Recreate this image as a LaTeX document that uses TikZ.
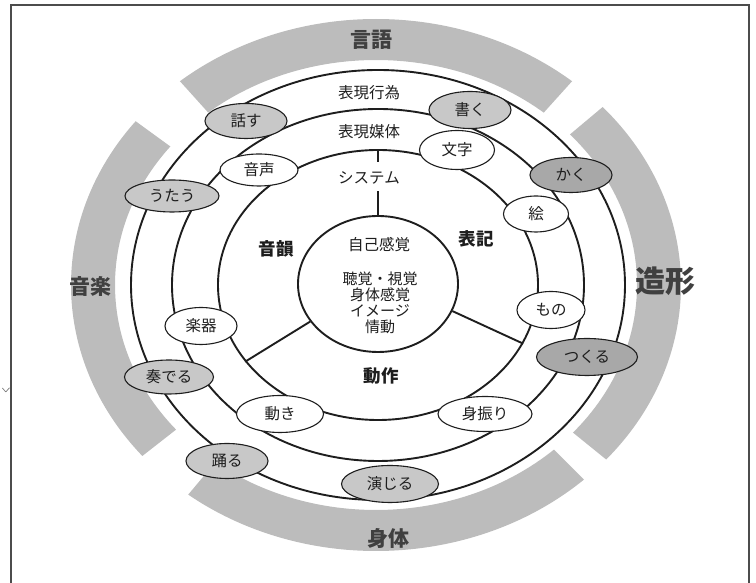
\documentclass[tikz,border=0pt]{standalone}
\usepackage{fontspec}
\newfontfamily\jp{Noto Sans CJK JP}
\usetikzlibrary{shapes.geometric}
\definecolor{bandgray}{RGB}{188,188,188}
\definecolor{actgray}{RGB}{200,200,200}
\definecolor{darkact}{RGB}{168,168,168}
\definecolor{ink}{RGB}{30,30,30}
\tikzset{
  ring/.style={draw=ink, ellipse, line width=1.9pt, inner sep=0pt},
  spoke/.style={draw=ink, line width=1.9pt},
  actnode/.style={draw=ink, ellipse, fill=actgray, line width=1.1pt, inner sep=0pt, font=\jp\fontsize{15.5}{17}\selectfont, text=ink},
  darknode/.style={actnode, fill=darkact},
  medianode/.style={actnode, fill=white},
  lvl/.style={font=\jp\fontsize{15.5}{17}\selectfont, text=ink},
  sysl/.style={font=\jp\bfseries\fontsize{17.5}{19}\selectfont, text=ink},
  sense/.style={font=\jp\fontsize{15}{16}\selectfont, text=ink},
  bandl/.style={font=\jp\bfseries\fontsize{21}{23}\selectfont, text=black!75},
}
\begin{document}
\begin{tikzpicture}[x=1pt,y=1pt]
\useasboundingbox (0,0) rectangle (756,583);
% frame
\draw[line width=1.6pt, black!70] (11,0) -- (11,578) -- (749,578) -- (749,0);
\node[font=\jp\fontsize{9}{9}\selectfont, text=black!60, rotate=90, inner sep=0pt] (stray) at (6,193) {く};
% grey bands
\begin{scope}[shift={(376,298)}]
  \fill[bandgray] (50:305 and 266) arc[start angle=50,end angle=130,x radius=305,y radius=266]
    -- (130:261 and 225) arc[start angle=130,end angle=50,x radius=261,y radius=225] -- cycle;
  \fill[bandgray] (-41:305 and 266) arc[start angle=-41,end angle=42,x radius=305,y radius=266]
    -- (42:261 and 225) arc[start angle=42,end angle=-41,x radius=261,y radius=225] -- cycle;
  \fill[bandgray] (142:305 and 266) arc[start angle=142,end angle=220,x radius=305,y radius=266]
    -- (220:261 and 225) arc[start angle=220,end angle=142,x radius=261,y radius=225] -- cycle;
  \fill[bandgray] (232:305 and 266) arc[start angle=232,end angle=313,x radius=305,y radius=266]
    -- (313:261 and 225) arc[start angle=313,end angle=232,x radius=261,y radius=225] -- cycle;
\end{scope}
\node[bandl] (gengo) at (371,543) {言語};
\node[bandl, font=\jp\bfseries\fontsize{30}{32}\selectfont] (zokei) at (665,302) {造形};
\node[bandl] (ongaku) at (90,296) {音楽};
\node[bandl] (shintai) at (388,44) {身体};
% rings
\node[ring, minimum width=494, minimum height=430] (r3) at (378,298) {};
\node[ring, minimum width=412, minimum height=352] (r2) at (378,298) {};
\node[ring, minimum width=320, minimum height=270] (r1) at (378,298) {};
% centre
\node[ring, fill=white, minimum width=160, minimum height=136] (self) at (378,299) {};
\draw[spoke] (self.209) -- (r1.210);
\draw[spoke] (self.-20) -- (r1.-22);
\draw[spoke] (r1.north) -- ++(0,-13);
\draw[spoke] (self.north) -- ++(0,24);
% level labels
\node[lvl] (koui) at (369,490) {表現行為};
\node[lvl] (baitai) at (369,451) {表現媒体};
\node[lvl] (system) at (369,405) {システム};
\node[sysl] (onin) at (276,334) {音韻};
\node[sysl] (hyouki) at (476,344) {表記};
\node[sysl] (dousa) at (381,207) {動作};
\node[lvl] (jiko) at (379,338) {自己感覚};
\node[sense] (s1) at (380,304) {聴覚・視覚};
\node[sense] (s2) at (380,288) {身体感覚};
\node[sense] (s3) at (380,272) {イメージ};
\node[sense] (s4) at (380,256) {情動};
% expressive acts
\node[actnode, minimum width=82, minimum height=35] (hanasu) at (246,462) {話す};
\node[actnode, minimum width=82, minimum height=37] (kaku1) at (470,473) {書く};
\node[actnode, minimum width=94, minimum height=32] (utau) at (172,387) {うたう};
\node[darknode, minimum width=82, minimum height=35] (kaku2) at (571,408) {かく};
\node[darknode, minimum width=101, minimum height=37] (tsukuru) at (587,226) {つくる};
\node[actnode, minimum width=89, minimum height=34] (kanaderu) at (169,206) {奏でる};
\node[actnode, minimum width=82, minimum height=35] (odoru) at (227,122) {踊る};
\node[actnode, minimum width=97, minimum height=37] (enjiru) at (390,99) {演じる};
% media
\node[medianode, minimum width=75, minimum height=39] (moji) at (457,433) {文字};
\node[medianode, minimum width=78, minimum height=32] (onsei) at (259,413) {音声};
\node[medianode, minimum width=65, minimum height=36] (e) at (536,369) {絵};
\node[medianode, minimum width=68, minimum height=37] (mono) at (551,273) {もの};
\node[medianode, minimum width=72, minimum height=37] (gakki) at (201,257) {楽器};
\node[medianode, minimum width=87, minimum height=37] (ugoki) at (280,169) {動き};
\node[medianode, minimum width=94, minimum height=35] (miburi) at (485,169) {身振り};
\end{tikzpicture}
\end{document}
